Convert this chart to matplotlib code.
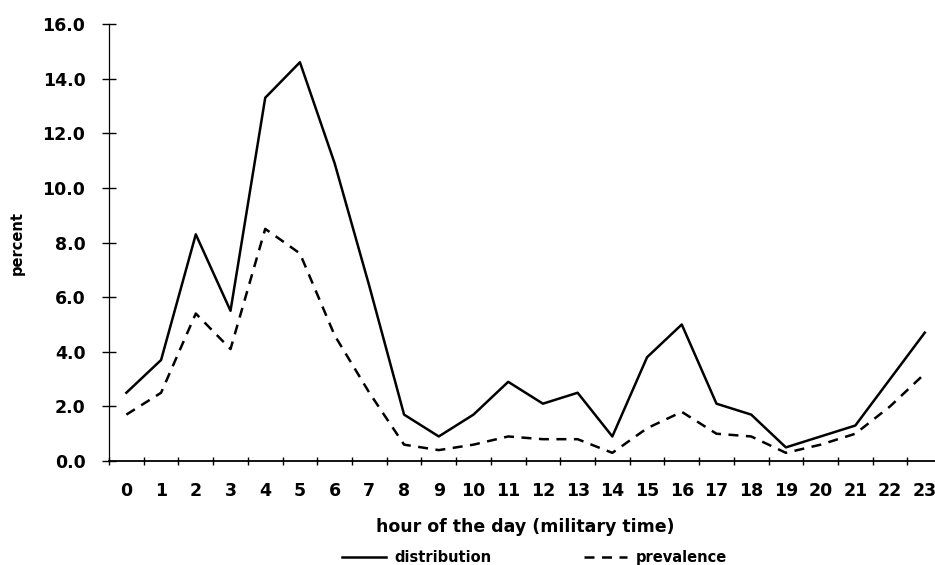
import numpy as np
import matplotlib
matplotlib.use("Agg")
import matplotlib.pyplot as plt

hours = list(range(24))
distribution = [2.5, 3.7, 8.3, 5.5, 13.3, 14.6, 10.9, 6.4, 1.7, 0.9, 1.7, 2.9,
                2.1, 2.5, 0.9, 3.8, 5.0, 2.1, 1.7, 0.5, 0.9, 1.3, 3.0, 4.7]
prevalence = [1.7, 2.5, 5.4, 4.1, 8.5, 7.6, 4.6, 2.5, 0.6, 0.4, 0.6, 0.9,
              0.8, 0.8, 0.3, 1.2, 1.8, 1.0, 0.9, 0.3, 0.6, 1.0, 2.0, 3.2]
y_ticks = [0, 2, 4, 6, 8, 10, 12, 14, 16]

plt.rcParams["font.family"] = ["DejaVu Sans"]
plt.rcParams["font.weight"] = "bold"

fig = plt.figure(figsize=(9.35, 5.65), dpi=100)
ax = fig.add_axes([0.1166, 0.184, 0.891, 0.7735])

ax.plot(hours, distribution, color="black", lw=1.8, label="distribution")
ax.plot(hours, prevalence, color="black", lw=1.8, ls=(0, (4, 3)), label="prevalence")

ax.set_xlim(-0.5, 23.5)
ax.set_ylim(0, 16)

for s in ["top", "right"]:
    ax.spines[s].set_visible(False)
ax.spines["left"].set_linewidth(0.9)
ax.spines["bottom"].set_linewidth(1.3)

ax.set_yticks(y_ticks)
ax.set_yticklabels(["{:.1f}".format(v) for v in y_ticks], fontsize=12.5, fontweight="bold")
ax.tick_params(axis="y", direction="inout", length=10, width=1, pad=12)

ax.set_xticks(hours)
ax.set_xticklabels([str(h) for h in hours], fontsize=12.5, fontweight="bold")
ax.set_xticks(np.arange(-0.5, 24, 1), minor=True)
ax.tick_params(axis="x", which="major", length=0, pad=15)
ax.tick_params(axis="x", which="minor", direction="inout", length=6, width=1)

ax.set_xlabel("hour of the day (military time)", fontsize=12.5, fontweight="bold", labelpad=13)
ax.set_ylabel("percent", fontsize=10.5, fontweight="bold", labelpad=13)

fig.legend(loc="lower center", bbox_to_anchor=(0.572, -0.024), ncol=2, frameon=False,
           fontsize=10.5, handlelength=3.0, columnspacing=6.3, handletextpad=0.6)

fig.savefig("out.png", dpi=100)
